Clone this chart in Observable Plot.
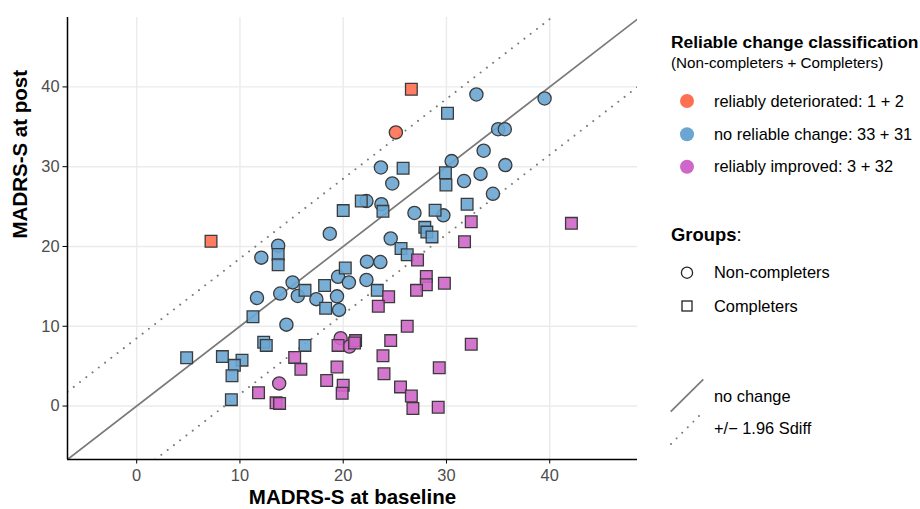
<!DOCTYPE html>
<html><head><meta charset="utf-8">
<script src="https://cdn.jsdelivr.net/npm/d3@7"></script>
<script src="https://cdn.jsdelivr.net/npm/@observablehq/plot@0.6"></script>
<style>
body{margin:0;background:#fff;font-family:"Liberation Sans",Arial,sans-serif;}
#wrap{position:relative;width:920px;height:509px;overflow:hidden;}
#legend{position:absolute;left:0;top:0;}
</style></head><body><div id="wrap"></div>
<script>
// ---- data ----
const xTicks = [0, 10, 20, 30, 40];
const yTicks = [0, 10, 20, 30, 40];
const xDomain = [-6.7, 48.5];
const yDomain = [-6.7, 48.7];
const rcOffset = 8.5; // 1.96 * Sdiff
const classes = ["reliably deteriorated", "no reliable change", "reliably improved"];
const classColors = ["#FF6F52", "#6AA6D1", "#CF66C9"];
const groups = ["Non-completers", "Completers"];
const xLabel = "MADRS-S at baseline";
const yLabel = "MADRS-S at post";

const ncDeteriorated = [[25.1, 34.3]];
const cDeteriorated = [[26.6, 39.7], [7.2, 20.65]];
const ncNoChange = [
  [32.9, 39.05], [39.5, 38.55], [35.0, 34.7], [35.65, 34.7], [33.6, 32.0], [30.5, 30.7],
  [35.7, 30.2], [23.65, 29.9], [33.3, 29.1], [31.7, 28.2], [24.75, 27.9], [34.5, 26.6],
  [22.25, 25.7], [23.7, 25.3], [26.9, 24.2], [29.7, 23.9], [24.6, 21.0], [18.7, 21.6],
  [22.3, 18.1], [23.6, 18.05], [12.07, 18.6], [13.7, 20.1], [19.5, 16.2], [20.55, 15.5],
  [15.1, 15.5], [13.9, 14.1], [15.6, 13.8], [17.4, 13.4], [19.4, 13.75], [11.65, 13.55],
  [19.6, 12.05], [14.5, 10.2], [22.25, 15.8]
];
const cNoChange = [
  [30.1, 36.7], [25.8, 29.8], [29.9, 29.25], [29.95, 27.7], [21.75, 25.7], [23.85, 24.4],
  [28.9, 24.55], [20.0, 24.5], [32.0, 25.3], [27.9, 22.4], [28.1, 21.8], [28.6, 21.2],
  [25.6, 19.75], [26.2, 18.96], [13.7, 19.0], [13.7, 17.7], [20.2, 17.3], [18.2, 15.1],
  [16.3, 14.5], [23.3, 14.5], [18.3, 12.25], [11.26, 11.2], [12.3, 8.0], [12.55, 7.6],
  [16.3, 7.6], [4.84, 6.05], [8.3, 6.2], [10.2, 5.75], [9.46, 5.1], [9.23, 3.8], [9.17, 0.8]
];
const ncImproved = [[13.8, 2.84], [19.75, 8.5], [20.6, 7.46]];
const cImproved = [
  [42.1, 22.9], [32.4, 23.1], [31.75, 20.6], [27.2, 18.3], [28.05, 16.25], [28.05, 15.2],
  [27.1, 14.5], [29.8, 15.4], [24.4, 13.7], [23.4, 12.5], [26.2, 10.0], [24.6, 8.2],
  [32.4, 7.75], [23.85, 6.3], [23.95, 4.05], [29.3, 4.8], [25.55, 2.4], [26.6, 1.25],
  [26.75, -0.3], [29.2, -0.15], [19.5, 7.6], [21.2, 8.2], [21.1, 7.9], [15.3, 6.1],
  [15.9, 4.6], [19.4, 4.9], [18.4, 3.2], [20.0, 2.6], [19.9, 1.6], [11.8, 1.67],
  [13.5, 0.4], [13.84, 0.33]
];

// ---- build table ----
const sets = [
  [ncDeteriorated, classes[0], groups[0]], [cDeteriorated, classes[0], groups[1]],
  [ncNoChange, classes[1], groups[0]], [cNoChange, classes[1], groups[1]],
  [ncImproved, classes[2], groups[0]], [cImproved, classes[2], groups[1]]
];
const points = sets.flatMap(([arr, cls, grp]) => arr.map(([x, y]) => ({x, y, cls, grp})));
const refLines = [0, rcOffset, -rcOffset].flatMap(off =>
  xDomain.map(x => ({x, y: x + off, off})));

const plot = Plot.plot({
  width: 920, height: 509,
  marginLeft: 67, marginRight: 283, marginTop: 17, marginBottom: 50,
  style: {fontFamily: '"Liberation Sans", Arial, sans-serif', background: "#fff"},
  x: {domain: xDomain},
  y: {domain: yDomain},
  color: {domain: classes, range: classColors},
  symbol: {domain: groups, range: ["circle", "square"]},
  marks: [
    Plot.gridX(xTicks, {stroke: "#ebebeb", strokeOpacity: 1, strokeWidth: 1.4}),
    Plot.gridY(yTicks, {stroke: "#ebebeb", strokeOpacity: 1, strokeWidth: 1.4}),
    Plot.line(refLines.filter(d => d.off === 0), {x: "x", y: "y", stroke: "#7a7a7a", strokeWidth: 1.7, clip: true}),
    Plot.line(refLines.filter(d => d.off !== 0), {x: "x", y: "y", z: "off", stroke: "#7a7a7a", strokeWidth: 2,
      strokeDasharray: "0.01,7.9", strokeLinecap: "round", clip: true}),
    Plot.dot(points, {x: "x", y: "y", fill: "cls", symbol: "grp", r: 6.6, stroke: "#3b3b3b",
      strokeWidth: 1.3, fillOpacity: 0.9}),
    Plot.ruleX([xDomain[0]], {stroke: "#000", strokeWidth: 1.5}),
    Plot.ruleY([yDomain[0]], {stroke: "#000", strokeWidth: 1.5}),
    Plot.axisX(xTicks, {tickSize: 4.5, tickPadding: 5, stroke: "#000", fill: "#4d4d4d", fontSize: 16.4, label: null}),
    Plot.axisY(yTicks, {tickSize: 4.5, tickPadding: 3.5, stroke: "#000", fill: "#4d4d4d", fontSize: 16.4, label: null}),
    Plot.text([xLabel], {frameAnchor: "bottom", dy: 38, fontWeight: "bold", fontSize: 20.5, fill: "#000", lineAnchor: "middle"}),
    Plot.text([yLabel], {frameAnchor: "left", dx: -47, rotate: -90, fontWeight: "bold", fontSize: 20.5, fill: "#000", lineAnchor: "middle"})
  ]
});
const wrap = document.getElementById("wrap");
wrap.appendChild(plot);

// ---- legend ----
const counts = cls => sets.filter(s => s[1] === cls).map(s => s[0].length).join(" + ");
const lg = d3.select(wrap).append("svg").attr("id", "legend").attr("width", 920).attr("height", 509)
  .style("font-family", '"Liberation Sans", Arial, sans-serif');
lg.append("text").attr("x", 671).attr("y", 47.5).attr("font-size", 17.4).attr("font-weight", "bold")
  .text("Reliable change classification");
lg.append("text").attr("x", 671).attr("y", 67.5).attr("font-size", 15.2)
  .text("(Non-completers + Completers)");
classes.forEach((c, i) => {
  const cy = [101, 134.3, 166.7][i];
  lg.append("circle").attr("cx", 687).attr("cy", cy).attr("r", 7).attr("fill", classColors[i]);
  lg.append("text").attr("x", 714).attr("y", cy).attr("dy", "0.35em").attr("font-size", 16.4)
    .text(`${c}: ${counts(c)}`);
});
const gt = lg.append("text").attr("x", 671).attr("y", 241).attr("font-size", 18.4);
gt.append("tspan").attr("font-weight", "bold").text("Groups");
gt.append("tspan").text(":");
lg.append("circle").attr("cx", 687).attr("cy", 272.7).attr("r", 5.6).attr("fill", "none")
  .attr("stroke", "#222").attr("stroke-width", 1.3);
lg.append("rect").attr("x", 682).attr("y", 301).attr("width", 10).attr("height", 10).attr("fill", "none")
  .attr("stroke", "#222").attr("stroke-width", 1.3);
lg.append("text").attr("x", 714).attr("y", 272.7).attr("dy", "0.35em").attr("font-size", 16.4).text(groups[0]);
lg.append("text").attr("x", 714).attr("y", 306).attr("dy", "0.35em").attr("font-size", 16.4).text(groups[1]);
lg.append("line").attr("x1", 670.7).attr("y1", 411.7).attr("x2", 703.3).attr("y2", 379.3)
  .attr("stroke", "#7a7a7a").attr("stroke-width", 1.7);
lg.append("line").attr("x1", 671).attr("y1", 444).attr("x2", 702).attr("y2", 413)
  .attr("stroke", "#7a7a7a").attr("stroke-width", 2).attr("stroke-dasharray", "0.01,7.9").attr("stroke-linecap", "round");
lg.append("text").attr("x", 714).attr("y", 396).attr("dy", "0.35em").attr("font-size", 16.4).text("no change");
lg.append("text").attr("x", 714).attr("y", 428).attr("dy", "0.35em").attr("font-size", 16.4).text("+/\u2212 1.96 Sdiff");
</script></body></html>
